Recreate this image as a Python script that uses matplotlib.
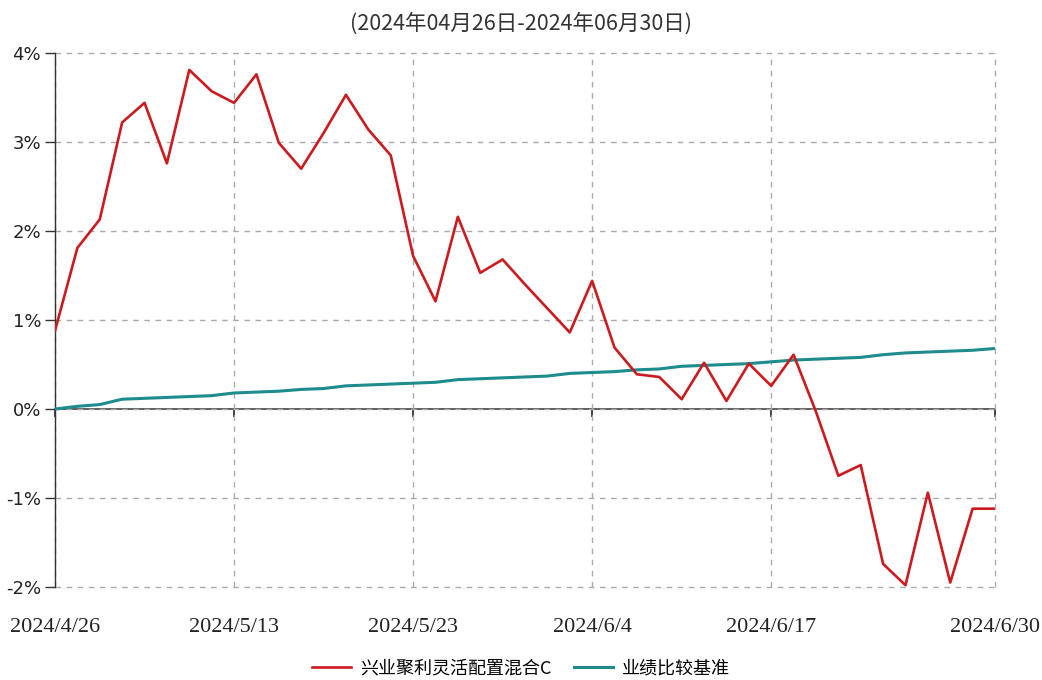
import datetime
import matplotlib
matplotlib.use("Agg")
import matplotlib.pyplot as plt
from matplotlib.ticker import FuncFormatter

plt.rcParams['font.family'] = ['Noto Sans CJK SC', 'DejaVu Sans']

# ------------------------
# data
# ------------------------
dates = ["2024-04-26", "2024-04-29", "2024-04-30",
         "2024-05-06", "2024-05-07", "2024-05-08", "2024-05-09", "2024-05-10",
         "2024-05-13", "2024-05-14", "2024-05-15", "2024-05-16", "2024-05-17",
         "2024-05-20", "2024-05-21", "2024-05-22", "2024-05-23", "2024-05-24",
         "2024-05-27", "2024-05-28", "2024-05-29", "2024-05-30", "2024-05-31",
         "2024-06-03", "2024-06-04", "2024-06-05", "2024-06-06", "2024-06-07",
         "2024-06-11", "2024-06-12", "2024-06-13", "2024-06-14",
         "2024-06-17", "2024-06-18", "2024-06-19", "2024-06-20", "2024-06-21",
         "2024-06-24", "2024-06-25", "2024-06-26", "2024-06-27", "2024-06-28",
         "2024-06-30"]

fund_name = "兴业聚利灵活配置混合C"
fund_ret = [0.88, 1.81, 2.13, 3.22, 3.44, 2.76, 3.81, 3.57, 3.44, 3.76,
            2.99, 2.70, 3.10, 3.53, 3.14, 2.85, 1.72, 1.21, 2.16, 1.53,
            1.68, 1.40, 1.13, 0.86, 1.44, 0.69, 0.39, 0.36, 0.11, 0.52,
            0.09, 0.51, 0.26, 0.61, -0.03, -0.75, -0.63, -1.74, -1.98, -0.94,
            -1.95, -1.12, -1.12]

bench_name = "业绩比较基准"
bench_ret = [0.00, 0.03, 0.05, 0.11, 0.12, 0.13, 0.14, 0.15, 0.18, 0.19,
             0.20, 0.22, 0.23, 0.26, 0.27, 0.28, 0.29, 0.30, 0.33, 0.34,
             0.35, 0.36, 0.37, 0.40, 0.41, 0.42, 0.44, 0.45, 0.48, 0.49,
             0.50, 0.51, 0.53, 0.55, 0.56, 0.57, 0.58, 0.61, 0.63, 0.64,
             0.65, 0.66, 0.68]

tick_dates = ["2024-04-26", "2024-05-13", "2024-05-23", "2024-06-04",
              "2024-06-17", "2024-06-30"]
y_ticks = [-2, -1, 0, 1, 2, 3, 4]

title = "(2024年04月26日-2024年06月30日)"


def fmt_date(s):
    d = datetime.date.fromisoformat(s)
    return f"{d.year}/{d.month}/{d.day}"


x = list(range(len(dates)))
tick_pos = [dates.index(d) for d in tick_dates]

fig = plt.figure(figsize=(10.42, 6.80), dpi=100)
ax = fig.add_axes([55 / 1042, 1 - 587 / 680, 940 / 1042, 534 / 680])

red = '#cc1a1e'
teal = '#1e8b8d'

ax.plot(x, fund_ret, color=red, lw=1.9, label=fund_name, zorder=4)
ax.plot(x, bench_ret, color=teal, lw=2.2, label=bench_name, zorder=3)

ax.set_xlim(0, len(dates) - 1)
ax.set_ylim(min(y_ticks), max(y_ticks))

# grid
ax.set_yticks(y_ticks)
ax.yaxis.set_major_formatter(FuncFormatter(lambda v, p: f"{v:.0f}%"))
ax.set_xticks(tick_pos)
ax.set_xticklabels([fmt_date(d) for d in tick_dates])
ax.grid(True, color='#aaaaaa', ls=(0, (4, 4)), lw=1)
for gl in ax.get_xgridlines() + ax.get_ygridlines():
    gl.set_clip_on(False)

for side in ['top', 'right', 'bottom']:
    ax.spines[side].set_visible(False)
ax.spines['left'].set_color('#333333')
ax.spines['left'].set_linewidth(1)

ax.tick_params(axis='y', direction='out', length=7, width=1, color='#333333',
               pad=3, labelsize=13, labelcolor='#222222')
ax.tick_params(axis='x', length=0, pad=22, labelsize=16, labelcolor='#222222')
for lbl in ax.get_xticklabels():
    lbl.set_fontfamily('Liberation Serif')
for lbl in ax.get_yticklabels():
    lbl.set_fontfamily('DejaVu Sans')

# zero line with tick marks
zero = ax.secondary_xaxis(1 / 3)
zero.set_xticks(tick_pos)
zero.tick_params(axis='x', direction='out', length=6, width=1.2,
                 color='#222222', labelbottom=False, labeltop=False,
                 bottom=True, top=False)
zero.set_xticklabels([])
for s in zero.spines.values():
    s.set_color('#444444')
    s.set_linewidth(1.2)

fig.text(0.5, 1 - 24 / 680, title, ha='center', va='center',
         fontsize=15.5, color='#333333')

fig.legend(loc='lower center', bbox_to_anchor=(0.5, -0.02), ncol=2,
           frameon=False, fontsize=13, handlelength=2.2, columnspacing=1.2,
           handletextpad=0.5)

plt.savefig("out.png", dpi=100)
